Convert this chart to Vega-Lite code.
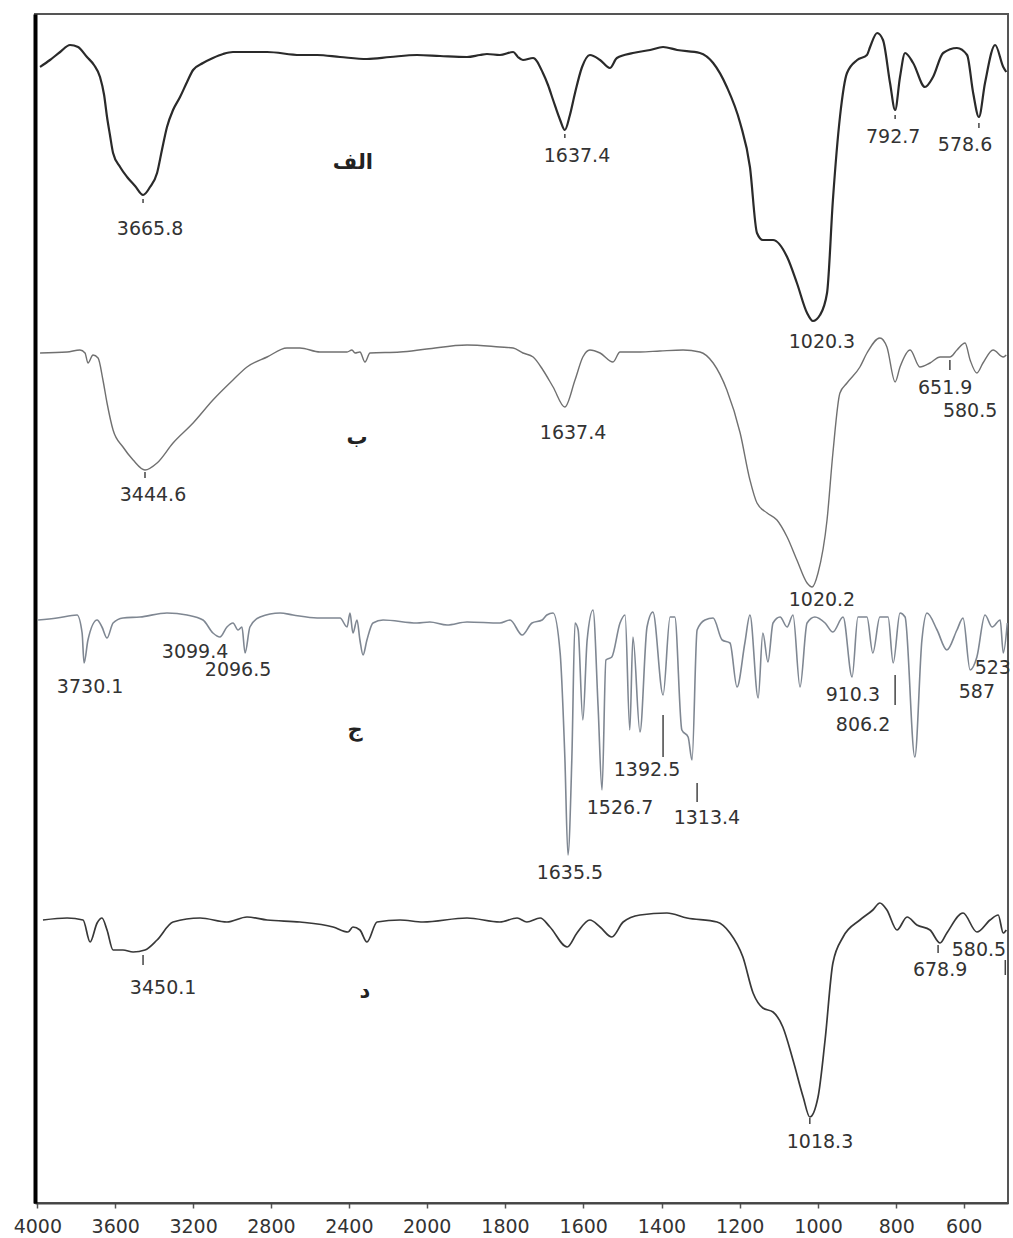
{
  "$schema": "https://vega.github.io/schema/vega-lite/v6.json",
  "width": 973,
  "height": 1189,
  "autosize": "none",
  "padding": {"left": 35, "top": 14, "right": 5, "bottom": 35},
  "background": "white",
  "config": {
    "view": {"stroke": "#555555", "strokeWidth": 2},
    "font": "DejaVu Sans"
  },
  "datasets": {
    "A": [
      {"wn":3986,"t":1136},{"wn":3935,"t":1143},{"wn":3883,"t":1151},{"wn":3832,"t":1158},{"wn":3791,"t":1156},{"wn":3745,"t":1146},{"wn":3709,"t":1138},{"wn":3678,"t":1126},{"wn":3657,"t":1108},{"wn":3642,"t":1086},{"wn":3627,"t":1068},{"wn":3611,"t":1050},{"wn":3575,"t":1036},{"wn":3539,"t":1026},{"wn":3498,"t":1017},{"wn":3457,"t":1008},{"wn":3421,"t":1016},{"wn":3385,"t":1030},{"wn":3360,"t":1053},{"wn":3334,"t":1076},{"wn":3303,"t":1093},{"wn":3267,"t":1106},{"wn":3231,"t":1121},{"wn":3200,"t":1133},{"wn":3149,"t":1140},{"wn":3098,"t":1145},{"wn":3046,"t":1149},{"wn":2995,"t":1151},{"wn":2820,"t":1151},{"wn":2651,"t":1148},{"wn":2563,"t":1148},{"wn":2445,"t":1146},{"wn":2307,"t":1144},{"wn":2188,"t":1146},{"wn":2050,"t":1148},
      {"wn":1966,"t":1147},{"wn":1897,"t":1146},{"wn":1864,"t":1148},{"wn":1846,"t":1149},{"wn":1813,"t":1148},{"wn":1779,"t":1151},{"wn":1767,"t":1146},{"wn":1754,"t":1143},{"wn":1728,"t":1145},{"wn":1703,"t":1130},{"wn":1690,"t":1118},{"wn":1677,"t":1103},{"wn":1659,"t":1083},{"wn":1647,"t":1073},{"wn":1634,"t":1088},{"wn":1621,"t":1110},{"wn":1603,"t":1136},{"wn":1583,"t":1148},{"wn":1557,"t":1143},{"wn":1532,"t":1135},{"wn":1514,"t":1145},{"wn":1473,"t":1150},{"wn":1429,"t":1153},{"wn":1396,"t":1156},{"wn":1360,"t":1153},{"wn":1302,"t":1150},{"wn":1268,"t":1140},{"wn":1233,"t":1116},{"wn":1199,"t":1080},{"wn":1174,"t":1036},{"wn":1156,"t":970},{"wn":1141,"t":963},{"wn":1115,"t":963},{"wn":1079,"t":946},{"wn":1054,"t":920},{"wn":1028,"t":890},{"wn":1013,"t":882},{"wn":995,"t":888},{"wn":977,"t":910},{"wn":962,"t":1003},{"wn":944,"t":1086},{"wn":926,"t":1130},{"wn":900,"t":1143},{"wn":875,"t":1148},{"wn":867,"t":1156},{"wn":849,"t":1170},{"wn":834,"t":1163},{"wn":816,"t":1120},{"wn":803,"t":1093},
      {"wn":789,"t":1126},{"wn":774,"t":1150},{"wn":750,"t":1140},{"wn":715,"t":1116},{"wn":691,"t":1126},{"wn":661,"t":1150},{"wn":620,"t":1155},{"wn":590,"t":1148},{"wn":572,"t":1110},{"wn":555,"t":1086},{"wn":537,"t":1120},{"wn":507,"t":1158},{"wn":483,"t":1136},{"wn":474,"t":1131}
    ],
    "B": [
      {"wn":3986,"t":850},{"wn":3847,"t":851},{"wn":3781,"t":853},{"wn":3755,"t":850},{"wn":3740,"t":840},{"wn":3714,"t":848},{"wn":3688,"t":845},{"wn":3663,"t":823},{"wn":3642,"t":800},{"wn":3611,"t":773},{"wn":3560,"t":756},{"wn":3508,"t":743},{"wn":3447,"t":733},{"wn":3385,"t":740},{"wn":3303,"t":760},{"wn":3200,"t":780},{"wn":3098,"t":803},{"wn":2995,"t":823},{"wn":2923,"t":836},{"wn":2820,"t":846},{"wn":2718,"t":855},{"wn":2651,"t":855},{"wn":2548,"t":851},{"wn":2409,"t":851},{"wn":2384,"t":853},{"wn":2368,"t":850},{"wn":2343,"t":851},{"wn":2317,"t":841},{"wn":2291,"t":850},{"wn":2137,"t":851},{"wn":2000,"t":854},
      {"wn":1897,"t":858},{"wn":1813,"t":856},{"wn":1779,"t":855},{"wn":1754,"t":850},{"wn":1728,"t":846},{"wn":1703,"t":833},{"wn":1677,"t":816},{"wn":1647,"t":796},{"wn":1621,"t":823},{"wn":1601,"t":846},{"wn":1583,"t":853},{"wn":1557,"t":850},{"wn":1524,"t":841},{"wn":1506,"t":851},{"wn":1455,"t":851},{"wn":1404,"t":852},{"wn":1345,"t":853},{"wn":1302,"t":851},{"wn":1268,"t":840},{"wn":1233,"t":813},{"wn":1199,"t":770},{"wn":1174,"t":723},{"wn":1156,"t":700},{"wn":1130,"t":690},{"wn":1105,"t":683},{"wn":1079,"t":666},{"wn":1054,"t":643},{"wn":1028,"t":620},{"wn":1015,"t":616},{"wn":1000,"t":630},{"wn":977,"t":683},{"wn":962,"t":750},{"wn":944,"t":810},{"wn":926,"t":820},{"wn":893,"t":836},{"wn":875,"t":850},{"wn":842,"t":865},{"wn":824,"t":856},{"wn":803,"t":821},
      {"wn":789,"t":836},{"wn":759,"t":853},{"wn":730,"t":836},{"wn":700,"t":840},{"wn":670,"t":846},{"wn":641,"t":846},{"wn":620,"t":853},{"wn":596,"t":860},{"wn":581,"t":843},{"wn":561,"t":830},{"wn":543,"t":840},{"wn":513,"t":853},{"wn":483,"t":846},{"wn":474,"t":848}
    ],
    "C": [
      {"wn":3996,"t":583},{"wn":3899,"t":585},{"wn":3796,"t":588},{"wn":3770,"t":570},{"wn":3760,"t":540},{"wn":3740,"t":563},{"wn":3693,"t":583},{"wn":3668,"t":576},{"wn":3642,"t":565},{"wn":3611,"t":580},{"wn":3560,"t":585},{"wn":3473,"t":586},{"wn":3334,"t":590},{"wn":3231,"t":588},{"wn":3149,"t":583},{"wn":3098,"t":570},{"wn":3062,"t":566},{"wn":3026,"t":576},{"wn":2995,"t":580},{"wn":2969,"t":573},{"wn":2949,"t":576},{"wn":2933,"t":550},{"wn":2908,"t":576},{"wn":2856,"t":586},{"wn":2753,"t":590},{"wn":2687,"t":588},{"wn":2563,"t":585},{"wn":2445,"t":585},{"wn":2409,"t":576},{"wn":2394,"t":590},{"wn":2379,"t":570},{"wn":2358,"t":583},{"wn":2343,"t":563},{"wn":2327,"t":548},{"wn":2307,"t":563},{"wn":2276,"t":580},{"wn":2224,"t":583},{"wn":2050,"t":580},
      {"wn":1992,"t":581},{"wn":1948,"t":578},{"wn":1897,"t":581},{"wn":1813,"t":580},{"wn":1787,"t":583},{"wn":1756,"t":568},{"wn":1731,"t":580},{"wn":1705,"t":583},{"wn":1693,"t":588},{"wn":1677,"t":590},{"wn":1659,"t":550},{"wn":1647,"t":446},{"wn":1639,"t":348},{"wn":1629,"t":446},{"wn":1621,"t":580},{"wn":1613,"t":573},{"wn":1601,"t":483},{"wn":1590,"t":563},{"wn":1575,"t":593},{"wn":1562,"t":496},{"wn":1552,"t":413},{"wn":1542,"t":543},{"wn":1527,"t":546},{"wn":1506,"t":580},{"wn":1493,"t":588},{"wn":1481,"t":473},{"wn":1473,"t":566},{"wn":1455,"t":471},{"wn":1437,"t":576},{"wn":1422,"t":591},{"wn":1396,"t":508},{"wn":1378,"t":586},{"wn":1366,"t":586},{"wn":1348,"t":473},{"wn":1332,"t":466},{"wn":1322,"t":443},{"wn":1309,"t":573},{"wn":1289,"t":583},{"wn":1268,"t":585},{"wn":1245,"t":563},{"wn":1225,"t":560},{"wn":1207,"t":516},{"wn":1187,"t":560},{"wn":1174,"t":588},{"wn":1153,"t":505},{"wn":1141,"t":570},{"wn":1128,"t":541},{"wn":1115,"t":580},{"wn":1097,"t":586},{"wn":1079,"t":576},{"wn":1064,"t":588},{"wn":1046,"t":516},{"wn":1028,"t":580},{"wn":1008,"t":586},{"wn":982,"t":580},{"wn":962,"t":571},{"wn":936,"t":586},{"wn":913,"t":526},{"wn":898,"t":586},{"wn":875,"t":586},{"wn":860,"t":550},{"wn":842,"t":586},{"wn":821,"t":586},{"wn":808,"t":540},
      {"wn":789,"t":590},{"wn":774,"t":586},{"wn":745,"t":446},{"wn":724,"t":563},{"wn":709,"t":590},{"wn":679,"t":573},{"wn":650,"t":553},{"wn":620,"t":573},{"wn":602,"t":585},{"wn":581,"t":533},{"wn":561,"t":546},{"wn":537,"t":588},{"wn":516,"t":576},{"wn":492,"t":583},{"wn":483,"t":550},{"wn":471,"t":580}
    ],
    "D": [
      {"wn":3971,"t":283},{"wn":3847,"t":285},{"wn":3765,"t":283},{"wn":3729,"t":261},{"wn":3693,"t":280},{"wn":3668,"t":285},{"wn":3642,"t":273},{"wn":3611,"t":253},{"wn":3560,"t":253},{"wn":3508,"t":251},{"wn":3447,"t":253},{"wn":3385,"t":263},{"wn":3303,"t":281},{"wn":3164,"t":285},{"wn":3026,"t":281},{"wn":2923,"t":286},{"wn":2820,"t":283},{"wn":2651,"t":281},{"wn":2481,"t":276},{"wn":2404,"t":271},{"wn":2379,"t":276},{"wn":2343,"t":273},{"wn":2307,"t":261},{"wn":2255,"t":281},{"wn":2137,"t":283},{"wn":2019,"t":281},
      {"wn":1897,"t":285},{"wn":1813,"t":281},{"wn":1769,"t":285},{"wn":1744,"t":281},{"wn":1710,"t":285},{"wn":1685,"t":276},{"wn":1641,"t":256},{"wn":1616,"t":270},{"wn":1583,"t":283},{"wn":1557,"t":276},{"wn":1527,"t":266},{"wn":1498,"t":281},{"wn":1455,"t":288},{"wn":1386,"t":290},{"wn":1335,"t":285},{"wn":1258,"t":281},{"wn":1225,"t":270},{"wn":1192,"t":246},{"wn":1166,"t":210},{"wn":1141,"t":195},{"wn":1115,"t":191},{"wn":1090,"t":176},{"wn":1064,"t":143},{"wn":1038,"t":106},{"wn":1021,"t":86},{"wn":1000,"t":106},{"wn":982,"t":163},{"wn":962,"t":240},{"wn":936,"t":266},{"wn":893,"t":283},{"wn":860,"t":293},{"wn":842,"t":300},{"wn":824,"t":293},
      {"wn":798,"t":273},{"wn":768,"t":286},{"wn":739,"t":278},{"wn":700,"t":273},{"wn":670,"t":260},{"wn":650,"t":270},{"wn":602,"t":290},{"wn":561,"t":271},{"wn":522,"t":283},{"wn":498,"t":288},{"wn":483,"t":270},{"wn":474,"t":273}
    ],
    "labels": [
      {"wn":3421,"t":974,"label":"3665.8"},{"wn":1616,"t":1047,"label":"1637.4"},{"wn":808,"t":1066,"label":"792.7"},{"wn":596,"t":1058,"label":"578.6"},{"wn":990,"t":861,"label":"1020.3"},
      {"wn":3406,"t":708,"label":"3444.6"},{"wn":1626,"t":770,"label":"1637.4"},{"wn":655,"t":815,"label":"651.9"},{"wn":581,"t":792,"label":"580.5"},{"wn":990,"t":603,"label":"1020.2"},
      {"wn":3729,"t":516,"label":"3730.1"},{"wn":3190,"t":551,"label":"3099.4"},{"wn":2969,"t":533,"label":"2096.5"},{"wn":1634,"t":330,"label":"1635.5"},{"wn":1506,"t":395,"label":"1526.7"},{"wn":1437,"t":433,"label":"1392.5"},{"wn":1284,"t":385,"label":"1313.4"},{"wn":911,"t":508,"label":"910.3"},{"wn":885,"t":478,"label":"806.2"},{"wn":561,"t":511,"label":"587"},{"wn":514,"t":535,"label":"523"},
      {"wn":3354,"t":215,"label":"3450.1"},{"wn":995,"t":61,"label":"1018.3"},{"wn":670,"t":233,"label":"678.9"},{"wn":555,"t":253,"label":"580.5"}
    ],
    "names": [
      {"wn":2379,"t":1040,"label":"الف"},{"wn":2358,"t":765,"label":"ب"},{"wn":2368,"t":473,"label":"ج"},{"wn":2317,"t":211,"label":"د"}
    ],
    "markers": [
      {"wn":3457,"t":1000,"t2":1004},{"wn":1647,"t":1065,"t2":1069},{"wn":803,"t":1084,"t2":1088},{"wn":555,"t":1075,"t2":1080},
      {"wn":3447,"t":725,"t2":731},{"wn":641,"t":833,"t2":843},
      {"wn":1396,"t":446,"t2":488},{"wn":1309,"t":401,"t2":420},{"wn":803,"t":498,"t2":528},
      {"wn":3457,"t":238,"t2":248},{"wn":676,"t":250,"t2":258},{"wn":1021,"t":79,"t2":85},{"wn":477,"t":228,"t2":243}
    ]
  },
  "encoding": {
    "x": {
      "field": "wn", "type": "quantitative",
      "scale": {"domain": [4012, 2000, 800, 600, 469], "range": [0, 391.7, 861.3, 928.7, 973], "nice": false, "zero": false},
      "axis": {
        "title": null, "values": [4000, 3600, 3200, 2800, 2400, 2000, 1800, 1600, 1400, 1200, 1000, 800, 600],
        "format": "d", "grid": false, "domainColor": "#444444", "domainWidth": 2,
        "tickColor": "#555555", "tickSize": 5, "tickWidth": 1.5,
        "labelFont": "DejaVu Sans", "labelFontSize": 19, "labelColor": "#333333", "labelPadding": 9, "labelFlush": false
      }
    },
    "y": {
      "field": "t", "type": "quantitative",
      "scale": {"domain": [0, 1189], "nice": false, "zero": false},
      "axis": {"title": null, "labels": false, "ticks": false, "grid": false, "domainColor": "#000000", "domainWidth": 4}
    }
  },
  "layer": [
    {"data": {"name": "A"}, "mark": {"type": "line", "color": "#2a2a2a", "strokeWidth": 2.2, "interpolate": "monotone"}},
    {"data": {"name": "B"}, "mark": {"type": "line", "color": "#707070", "strokeWidth": 1.4, "interpolate": "monotone"}},
    {"data": {"name": "C"}, "mark": {"type": "line", "color": "#7f8792", "strokeWidth": 1.6, "interpolate": "monotone"}},
    {"data": {"name": "D"}, "mark": {"type": "line", "color": "#383838", "strokeWidth": 1.7, "interpolate": "monotone"}},
    {"data": {"name": "markers"}, "mark": {"type": "rule", "color": "#444444", "strokeWidth": 1.5}, "encoding": {"y2": {"field": "t2"}}},
    {"data": {"name": "labels"}, "mark": {"type": "text", "font": "DejaVu Sans", "fontSize": 19, "color": "#333333", "align": "center", "baseline": "middle"}, "encoding": {"text": {"field": "label"}}},
    {"data": {"name": "names"}, "mark": {"type": "text", "font": "DejaVu Sans", "fontSize": 21, "fontWeight": "bold", "color": "#222222", "align": "center", "baseline": "middle"}, "encoding": {"text": {"field": "label"}}}
  ]
}
